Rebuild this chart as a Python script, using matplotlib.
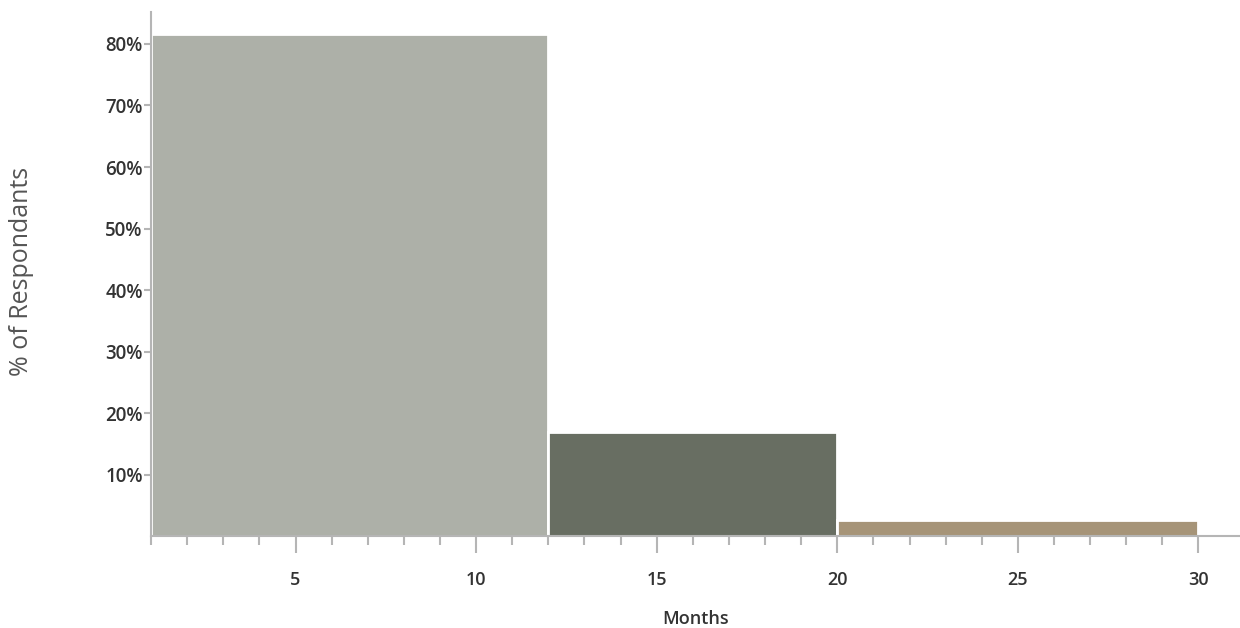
import numpy as np
import matplotlib.pyplot as plt
from matplotlib.ticker import FixedLocator

# histogram bins (months) and share of respondents (%)
bin_edges = [1, 12, 20, 30]
pct = [81.6, 17.0, 2.7]
colors = ['#adb0a8', '#686e62', '#a69478']

y_ticks = [10, 20, 30, 40, 50, 60, 70, 80]
x_ticks = [5, 10, 15, 20, 25, 30]

plt.rcParams['font.family'] = ['Open Sans', 'DejaVu Sans']

fig = plt.figure(figsize=(12.4, 6.28), dpi=100)
ax = fig.add_axes([0.1218, 0.146, 0.8782, 0.835])

lefts = np.array(bin_edges[:-1])
widths = np.diff(bin_edges)
ax.bar(lefts, pct, width=widths, align='edge', color=colors,
       edgecolor='white', linewidth=2)

ax.set_xlim(1, 31.15)
ax.set_ylim(0, 85.2)

for s in ['top', 'right']:
    ax.spines[s].set_visible(False)
for s in ['left', 'bottom']:
    ax.spines[s].set_color('#b5b5b5')
    ax.spines[s].set_linewidth(1.5)

ax.xaxis.set_major_locator(FixedLocator(x_ticks))
ax.xaxis.set_minor_locator(FixedLocator(range(1, 31)))
ax.set_xticklabels([str(t) for t in x_ticks])
ax.set_yticks(y_ticks)
ax.set_yticklabels([f'{t}%' for t in y_ticks])

ax.tick_params(axis='x', which='major', length=12, width=1.5, color='#b5b5b5',
               pad=13, labelsize=13, labelcolor='#333333')
ax.tick_params(axis='x', which='minor', length=6.5, width=1.5, color='#b5b5b5')
ax.tick_params(axis='y', which='major', length=5, width=1.5, color='#b5b5b5',
               pad=1, labelsize=13.5, labelcolor='#333333')
for lbl in ax.get_xticklabels() + ax.get_yticklabels():
    lbl.set_fontweight('semibold')

ax.set_xlabel('Months', fontsize=13, fontweight='semibold', color='#333333', labelpad=15)
fig.text(0.017, 0.568, '% of Respondants', rotation=90, fontsize=18,
         color='#555555', ha='center', va='center')

fig.savefig('out.png', dpi=100)
